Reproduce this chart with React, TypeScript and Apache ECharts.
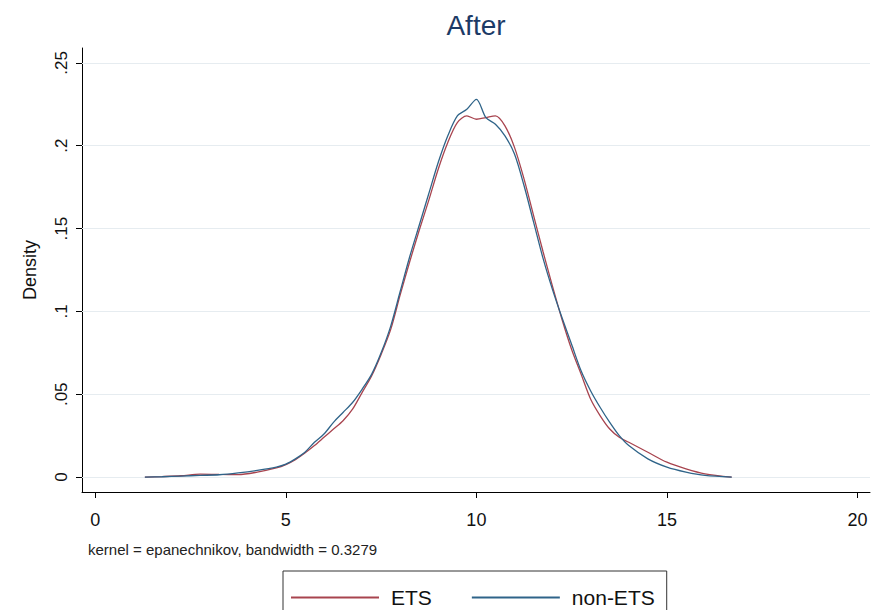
import React, { useEffect, useRef } from "react";
import * as echarts from "echarts";

const xValues = [1.3, 1.75, 2.25, 2.75, 3.25, 3.75, 4.25, 4.75, 5.0, 5.25, 5.5, 5.75, 6.0, 6.25, 6.5, 6.75, 7.0, 7.25, 7.5, 7.75, 8.0, 8.25, 8.5, 8.75, 9.0, 9.25, 9.5, 9.75, 10.0, 10.25, 10.5, 10.75, 11.0, 11.25, 11.5, 11.75, 12.0, 12.25, 12.5, 12.75, 13.0, 13.25, 13.5, 13.75, 14.0, 14.5, 15.0, 15.5, 16.0, 16.7];
const etsDensity = [0.0, 0.0003, 0.0008, 0.0018, 0.0016, 0.0015, 0.003, 0.0055, 0.0075, 0.0105, 0.0145, 0.019, 0.024, 0.029, 0.034, 0.041, 0.051, 0.061, 0.074, 0.089, 0.11, 0.13, 0.149, 0.167, 0.186, 0.202, 0.214, 0.218, 0.216, 0.217, 0.218, 0.212, 0.199, 0.18, 0.158, 0.136, 0.115, 0.095, 0.077, 0.062, 0.047, 0.037, 0.029, 0.024, 0.021, 0.015, 0.009, 0.005, 0.002, 0.0];
const nonEtsDensity = [0.0, 0.0002, 0.0006, 0.001, 0.0014, 0.0025, 0.004, 0.006, 0.0078, 0.011, 0.015, 0.021, 0.026, 0.033, 0.039, 0.045, 0.053, 0.062, 0.075, 0.091, 0.112, 0.133, 0.152, 0.171, 0.19, 0.206, 0.218, 0.222, 0.228, 0.217, 0.213, 0.206, 0.195, 0.176, 0.154, 0.132, 0.113, 0.096, 0.08, 0.064, 0.052, 0.042, 0.033, 0.025, 0.019, 0.011, 0.006, 0.003, 0.001, 0.0];
const xTicks = [0, 5, 10, 15, 20];
const yTicks = [0, 0.05, 0.1, 0.15, 0.2, 0.25];
const seriesNames = ["ETS", "non-ETS"];
const titleText = "After";
const yAxisTitle = "Density";
const noteText = "kernel = epanechnikov, bandwidth = 0.3279";

const FONT = "'Liberation Sans', Arial, sans-serif";

export default function App() {
  const ref = useRef<HTMLDivElement>(null);
  useEffect(() => {
    document.body.style.margin = "0";
    const chart = echarts.init(ref.current!, null, { renderer: "svg" });
    const toPairs = (ys: number[]) => xValues.map((x, i) => [x, ys[i]]);
    const fmtY = (v: number) => (v === 0 ? "0" : String(Math.round(v * 100) / 100).replace(/^0/, ""));
    chart.setOption({
      animation: false,
      backgroundColor: "#ffffff",
      textStyle: { fontFamily: FONT },
      grid: { left: 82, top: 48, right: 17, bottom: 118, containLabel: false },
      xAxis: {
        type: "value",
        min: -0.35,
        max: 20.33,
        axisLine: { show: true, onZero: false, lineStyle: { color: "#000", width: 1 } },
        axisTick: { show: true, customValues: xTicks, length: 6, lineStyle: { color: "#000" } },
        axisLabel: { customValues: xTicks, fontSize: 18, color: "#111", margin: 19, fontFamily: FONT },
        splitLine: { show: false },
      },
      yAxis: {
        type: "value",
        min: -0.009,
        max: 0.259,
        name: yAxisTitle,
        nameLocation: "middle",
        nameRotate: 90,
        nameGap: 43,
        nameTextStyle: { fontSize: 18, color: "#111", fontFamily: FONT },
        axisLine: { show: true, onZero: false, lineStyle: { color: "#000", width: 1 } },
        axisTick: { show: true, customValues: yTicks, length: 6, lineStyle: { color: "#000" } },
        axisLabel: {
          customValues: yTicks,
          rotate: 90,
          fontSize: 17,
          color: "#111",
          margin: 12,
          fontFamily: FONT,
          formatter: fmtY,
        },
        splitLine: { show: false },
      },
      legend: {
        data: seriesNames.map((n) => ({ name: n, icon: "rect" })),
        left: 283,
        top: 571,
        orient: "horizontal",
        padding: [16, 12, 16, 8],
        itemWidth: 88,
        itemHeight: 2,
        itemGap: 40,
        borderColor: "#333",
        borderWidth: 1,
        textStyle: { fontSize: 21, color: "#111", fontFamily: FONT, padding: [0, 0, 0, 7] },
      },
      series: [
        {
          name: seriesNames[0],
          type: "line",
          data: toPairs(etsDensity),
          showSymbol: false,
          smooth: 0.3,
          lineStyle: { color: "#a8444f", width: 1.3 },
          itemStyle: { color: "#a8444f" },
          z: 3,
          markLine: {
            silent: true,
            symbol: "none",
            label: { show: false },
            lineStyle: { color: "#e6ecf0", width: 1, type: "solid" },
            data: yTicks.map((v) => ({ yAxis: v })),
            z: 1,
          },
        },
        {
          name: seriesNames[1],
          type: "line",
          data: toPairs(nonEtsDensity),
          showSymbol: false,
          smooth: 0.3,
          lineStyle: { color: "#2f6489", width: 1.3 },
          itemStyle: { color: "#2f6489" },
          z: 4,
        },
      ],
      graphic: [
        {
          type: "text",
          x: 476,
          y: 25,
          style: {
            text: titleText,
            fontSize: 28,
            fill: "#1c3a66",
            fontFamily: FONT,
            align: "center",
            verticalAlign: "middle",
          },
        },
        {
          type: "text",
          x: 88,
          y: 549,
          style: {
            text: noteText,
            fontSize: 15,
            fill: "#222",
            fontFamily: FONT,
            align: "left",
            verticalAlign: "middle",
          },
        },
      ],
    });
    return () => chart.dispose();
  }, []);
  return <div ref={ref} style={{ width: 887, height: 610 }} />;
}
